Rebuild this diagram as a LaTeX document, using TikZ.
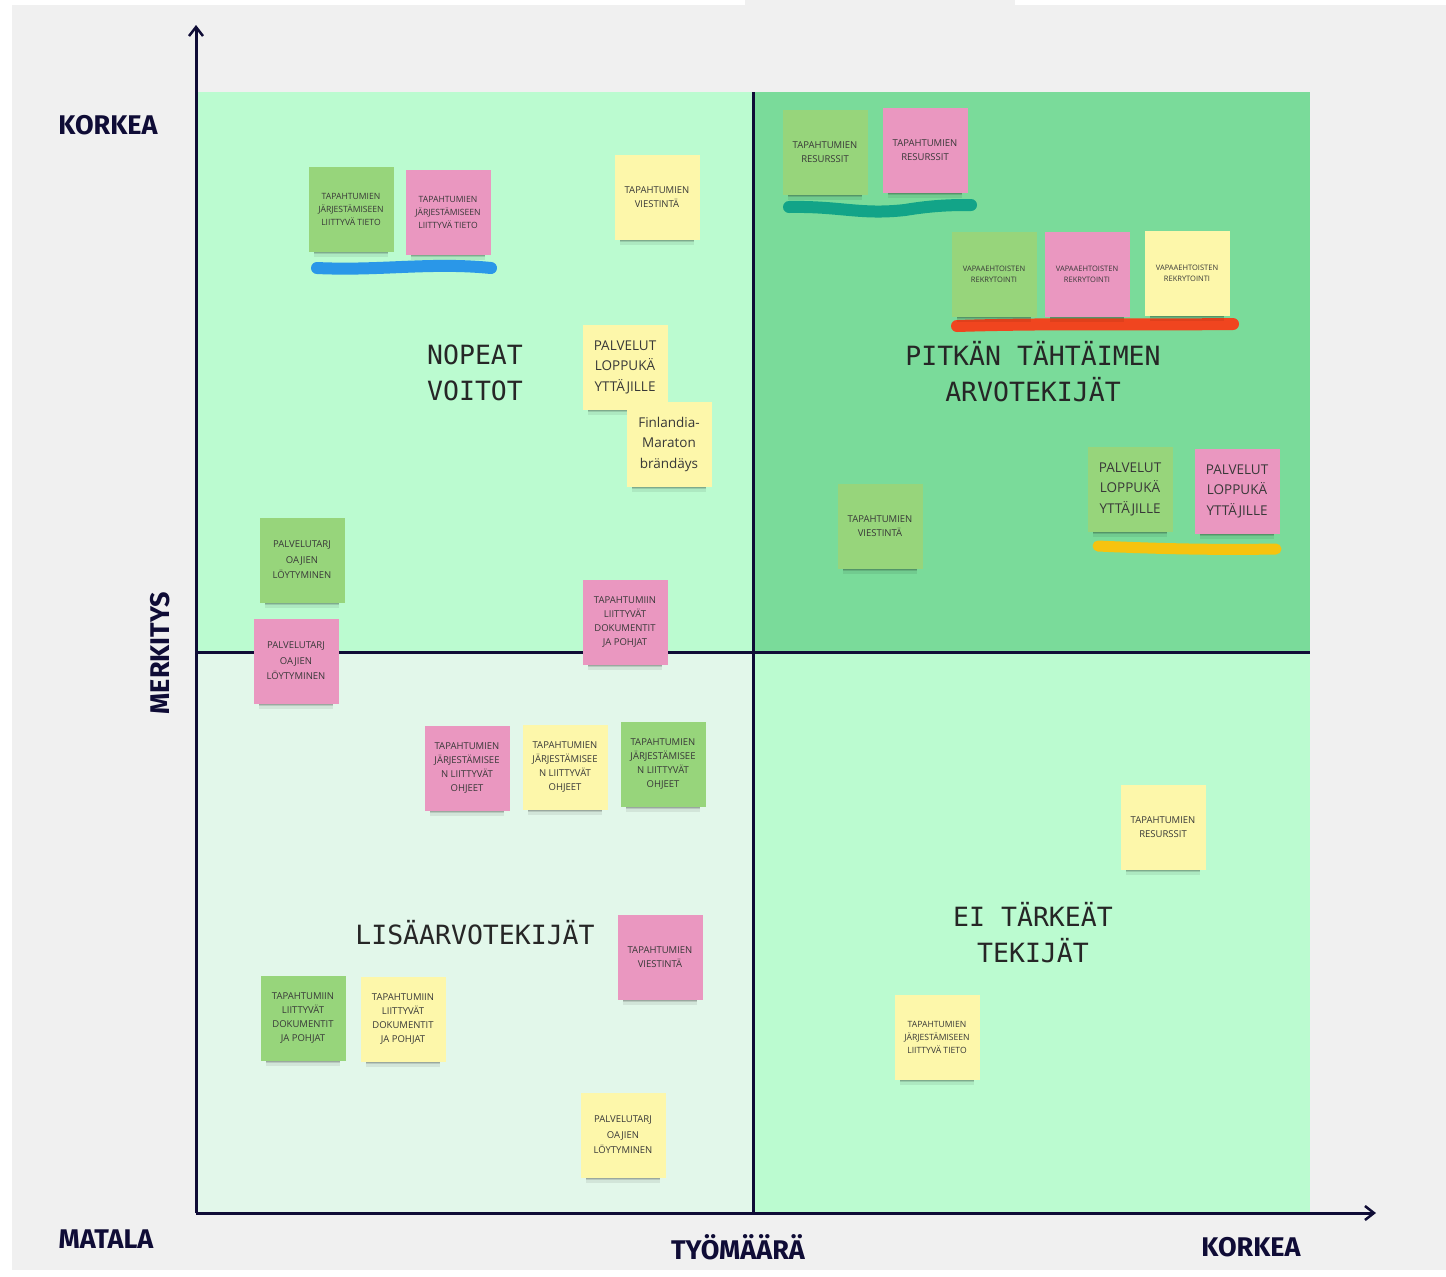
\documentclass[tikz,border=0pt]{standalone}
\usepackage{fontspec}
\setmainfont{Open Sans}
\newfontfamily\monofont{DejaVu Sans Mono}
\newfontfamily\axisfont{Fira Sans}
\usetikzlibrary{arrows.meta,shadows}
\definecolor{bggray}{HTML}{F0F0F0}
\definecolor{navy}{HTML}{0F0C36}
\definecolor{mintlight}{HTML}{BBFBD0}
\definecolor{mintdark}{HTML}{7ADB9A}
\definecolor{mintpale}{HTML}{E2F7EA}
\definecolor{notegreen}{HTML}{97D57B}
\definecolor{notepink}{HTML}{EA97C0}
\definecolor{noteyellow}{HTML}{FDF7AA}
\definecolor{inkblue}{HTML}{2A97E8}
\definecolor{inkteal}{HTML}{12A488}
\definecolor{inkred}{HTML}{F0451F}
\definecolor{inkyellow}{HTML}{F6C30F}
\newcommand{\tieto}{TAPAHTUMIEN\\JÄRJESTÄMISEEN\\LIITTYVÄ TIETO}
\newcommand{\viestinta}{TAPAHTUMIEN\\VIESTINTÄ}
\newcommand{\resurssit}{TAPAHTUMIEN\\RESURSSIT}
\newcommand{\vapaa}{VAPAAEHTOISTEN\\REKRYTOINTI}
\newcommand{\palvelut}{PALVELUT\\LOPPUKÄ\\YTTÄJILLE}
\newcommand{\brandi}{Finlandia-\\Maraton\\brändäys}
\newcommand{\tarjoajat}{PALVELUTARJ\\OAJIEN\\LÖYTYMINEN}
\newcommand{\dokut}{TAPAHTUMIIN\\LIITTYVÄT\\DOKUMENTIT\\JA POHJAT}
\newcommand{\ohjeet}{TAPAHTUMIEN\\JÄRJESTÄMISEE\\N LIITTYVÄT\\OHJEET}
\tikzset{
  note/.style={minimum width=85pt, minimum height=85pt, inner sep=0pt,
    align=center, text=black!78,
    drop shadow={shadow xshift=0pt, shadow yshift=-13pt, shadow scale=0.86,
      opacity=0.07, fill=black},
    drop shadow={shadow xshift=0pt, shadow yshift=-10pt, shadow scale=0.86,
      opacity=0.12, fill=black},
    drop shadow={shadow xshift=0pt, shadow yshift=-7pt, shadow scale=0.88,
      opacity=0.16, fill=black}},
  tinytext/.style={font=\fontsize{7.5}{11}\selectfont},
  smalltext/.style={font=\fontsize{8.6}{13}\selectfont},
  basetext/.style={font=\fontsize{9.5}{13.7}\selectfont},
  widetext/.style={font=\fontsize{9.5}{15.5}\selectfont},
  bigtext/.style={font=\fontsize{13.5}{20.5}\selectfont},
  quadtitle/.style={font=\monofont\fontsize{26.5}{36}\selectfont, text=black!85, align=center},
  axislabel/.style={font=\axisfont\bfseries\fontsize{27}{30}\selectfont, text=navy},
  axisline/.style={line width=3pt, draw=navy},
  ink/.style={line width=12pt, line cap=round}
}
\begin{document}
\begin{tikzpicture}[x=1pt, y=-1pt]
\useasboundingbox (0,0) rectangle (1446,1277);
\fill[white] (0,0) rectangle (1446,1277);
\fill[bggray] (12,0) rectangle (1446,1270);
\fill[white] (12,0) rectangle (745,5);
\fill[white] (1015,0) rectangle (1446,5);

\fill[mintlight] (198,92) rectangle (753,652);
\fill[mintdark] (753,92) rectangle (1310,652);
\fill[mintpale] (198,652) rectangle (753,1213);
\fill[mintlight] (753,652) rectangle (1310,1213);

\coordinate (origin) at (196,1213);
\coordinate (ytop) at (196,25);
\coordinate (xend) at (1376,1213);
\coordinate (midtop) at (753,92);
\coordinate (midbot) at (753,1213);
\coordinate (midleft) at (196,652);
\coordinate (midright) at (1310,652);
\draw[axisline] (midtop) -- (midbot);
\draw[axisline] (midleft) -- (midright);
\draw[axisline, -{Straight Barb[length=9pt, width=14pt, line width=2.5pt]}] (origin) -- (ytop);
\draw[axisline, -{Straight Barb[length=9pt, width=14pt, line width=2.5pt]}] (origin) -- (xend);

\node[axislabel] (korkeay) at (108,125) {KORKEA};
\node[axislabel, rotate=90] (merkitys) at (160,653) {MERKITYS};
\node[axislabel] (matala) at (106,1239) {MATALA};
\node[axislabel] (tyomaara) at (738,1247) {TYÖMÄÄRÄ};
\node[axislabel] (korkeax) at (1251,1247) {KORKEA};

\node[quadtitle] (nopeat) at (475,373) {NOPEAT\\VOITOT};
\node[quadtitle] (pitkan) at (1033,372) {PITKÄN TÄHTÄIMEN\\ARVOTEKIJÄT};
\node[quadtitle] (lisa) at (475,933) {LISÄARVOTEKIJÄT};
\node[quadtitle] (eitarkeat) at (1033,933) {EI TÄRKEÄT\\TEKIJÄT};

\draw[ink, inkblue] (317,268) .. controls (380,271) and (430,262) .. (491,268);
\draw[ink, inkteal] (789,207) .. controls (840,206) and (860,215) .. (905,210) .. controls (935,205) and (955,205) .. (971,205);
\draw[ink, inkred] (957,326) .. controls (1050,323) and (1150,325) .. (1233,324);
\draw[ink, inkyellow, line width=11pt] (1098,546) .. controls (1160,549) and (1220,550) .. (1276,549);

\foreach \nm/\x/\y/\c/\s/\t in {
  tl1/351/209/notegreen/smalltext/\tieto,
  tl2/448/212/notepink/smalltext/\tieto,
  tl3/657/197/noteyellow/basetext/\viestinta,
  tl4/625/367/noteyellow/bigtext/\palvelut,
  tl5/669/444/noteyellow/bigtext/\brandi,
  tl6/302/560/notegreen/widetext/\tarjoajat,
  tl8/625/622/notepink/basetext/\dokut,
  tr1/825/152/notegreen/basetext/\resurssit,
  tr2/925/150/notepink/basetext/\resurssit,
  tr3/994/274/notegreen/tinytext/\vapaa,
  tr4/1087/274/notepink/tinytext/\vapaa,
  tr5/1187/273/noteyellow/tinytext/\vapaa,
  tr6/880/526/notegreen/basetext/\viestinta,
  tr7/1130/489/notegreen/bigtext/\palvelut,
  tr8/1237/491/notepink/bigtext/\palvelut,
  tl7/296/661/notepink/widetext/\tarjoajat,
  bl1/467/768/notepink/basetext/\ohjeet,
  bl2/565/767/noteyellow/basetext/\ohjeet,
  bl3/663/764/notegreen/basetext/\ohjeet,
  bl4/660/957/notepink/basetext/\viestinta,
  bl5/303/1018/notegreen/basetext/\dokut,
  bl6/403/1019/noteyellow/basetext/\dokut,
  bl7/623/1135/noteyellow/widetext/\tarjoajat,
  br1/1163/827/noteyellow/basetext/\resurssit,
  br2/937/1037/noteyellow/smalltext/\tieto}
  \node[note, \s, fill=\c] (\nm) at (\x,\y) {\t};
\end{tikzpicture}
\end{document}
